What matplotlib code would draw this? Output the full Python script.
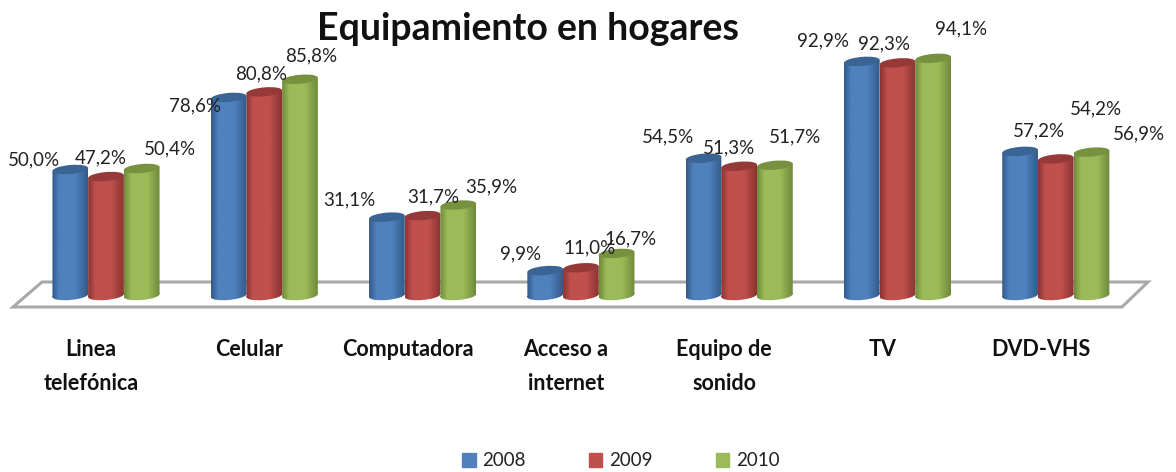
# -*- coding: utf-8 -*-

import numpy as np
import matplotlib
matplotlib.use('Agg')
import matplotlib.pyplot as plt
from matplotlib.colors import LinearSegmentedColormap
from matplotlib.patches import PathPatch, Polygon, Patch
from matplotlib.path import Path

plt.rcParams['font.family'] = ['Lato', 'DejaVu Sans']

# =============================================================================
#               DATOS
# =============================================================================

categorias = ['Linea\ntelefónica', 'Celular', 'Computadora', 'Acceso a\ninternet',
              'Equipo de\nsonido', 'TV', 'DVD-VHS']
anios = ['2008', '2009', '2010']
v2008 = [50.0, 78.6, 31.1, 9.9, 54.5, 92.9, 57.2]
v2009 = [47.2, 80.8, 31.7, 11.0, 51.3, 92.3, 54.2]
v2010 = [50.4, 85.8, 35.9, 16.7, 51.7, 94.1, 56.9]

# centro de cada etiqueta, en pixeles de la imagen
etq_x = [[34, 101, 170], [195, 261, 311], [349, 433, 491], [521, 590, 631],
         [668, 729, 795], [823, 884, 961], [1039, 1096, 1139]]
etq_y = [[160, 158, 149], [106, 74, 56], [200, 197, 187], [254, 248, 239],
         [137, 148, 137], [41, 44, 29], [131, 109, 134]]

colores = ['#4f81bd', '#c0504d', '#9bbb59']
oscuros = ['#335a8a', '#8a3432', '#6f8a3a']
tapas = ['#3a6494', '#953a38', '#77923f']

# =============================================================================
#               ESCALAS
# =============================================================================

W, H = 1176, 472
BOT = 320           # borde inferior del eje, en pixeles
X0, DX = 106, 158.3
Y0, DY = 295.5, 2.52


def px_x(p):
    return (p - X0) / DX


def px_y(p):
    return (Y0 - p) / DY


ancho = 35.7 / DX
semi = 4.5 / DY     # semieje menor de la elipse
k = (3 / DY) / ancho  # inclinacion de las tapas


def elipse(xc, yc):
    c = Path.unit_circle()
    vv = c.vertices * [ancho / 2, semi] + [xc, yc]
    vv[:, 1] += k * (vv[:, 0] - xc)
    return Path(vv, c.codes)


def cilindro(xc, v):
    r = Path.unit_rectangle()
    vv = r.vertices * [ancho, v] + [xc - ancho / 2, 0]
    vv[:, 1] += k * (vv[:, 0] - xc)
    return Path.make_compound_path(Path(vv, r.codes), elipse(xc, 0))


# =============================================================================
#                              PLOTEO
# =============================================================================

fig = plt.figure(figsize=(W / 100, H / 100), dpi=100)
ax = fig.add_axes([0, 1 - BOT / H, 1, BOT / H])

# piso
piso = Polygon([(px_x(42), px_y(282)), (px_x(1148), px_y(282)),
                (px_x(1122), px_y(307)), (px_x(13), px_y(307))],
               closed=True, facecolor='white', edgecolor='#a9a9a9', lw=2.2, zorder=1)
ax.add_patch(piso)

x = np.arange(len(categorias))
series = [v2008, v2009, v2010]
grad = np.linspace(0, 1, 64)[None, :]

for j, vals in enumerate(series):
    xs = x + (j - 1) * ancho
    cmap = LinearSegmentedColormap.from_list(
        'c', [(0, oscuros[j]), (0.2, colores[j]), (0.65, colores[j]), (1, oscuros[j])])
    z = 3 + j
    ax.bar(xs, vals, ancho * 0.8, color=colores[j], zorder=z)
    for xc, v in zip(xs, vals):
        clip = PathPatch(cilindro(xc, v), transform=ax.transData, fc='none', ec='none')
        ax.add_patch(clip)
        im = ax.imshow(grad, extent=[xc - ancho / 2, xc + ancho / 2, -4, v + 4],
                       aspect='auto', cmap=cmap, zorder=z, interpolation='bilinear')
        im.set_clip_path(clip)
        ax.add_patch(PathPatch(elipse(xc, v), fc=tapas[j], ec='none', zorder=z))

for i in range(len(categorias)):
    for j, vals in enumerate(series):
        ax.text(px_x(etq_x[i][j]), px_y(etq_y[i][j]),
                ('%.1f%%' % vals[i]).replace('.', ','),
                ha='center', va='center', fontsize=13.5, color='#222222', zorder=10)

ax.set_xlim(px_x(0), px_x(W))
ax.set_ylim(px_y(BOT), px_y(0))
ax.set_xticks(x - 15 / DX)
ax.set_xticklabels(categorias, fontweight='bold', fontsize=15.5, linespacing=1.75,
                   color='#111111')
ax.tick_params(axis='x', length=0, pad=14)
ax.set_yticks([])
for s in ax.spines.values():
    s.set_visible(False)

fig.text(528 / W, 1 - 29 / H, 'Equipamiento en hogares', ha='center', va='center',
         fontsize=27, fontweight='bold', color='#111111')

fig.legend(handles=[Patch(color=c, label=a) for c, a in zip(colores, anios)],
           loc='center', bbox_to_anchor=(621 / W, 1 - 461 / H), ncol=3, frameon=False,
           fontsize=13.5, handlelength=0.7, handleheight=0.7, handletextpad=0.35,
           columnspacing=3.4, labelcolor='#222222')

fig.savefig('out.png', dpi=100)
